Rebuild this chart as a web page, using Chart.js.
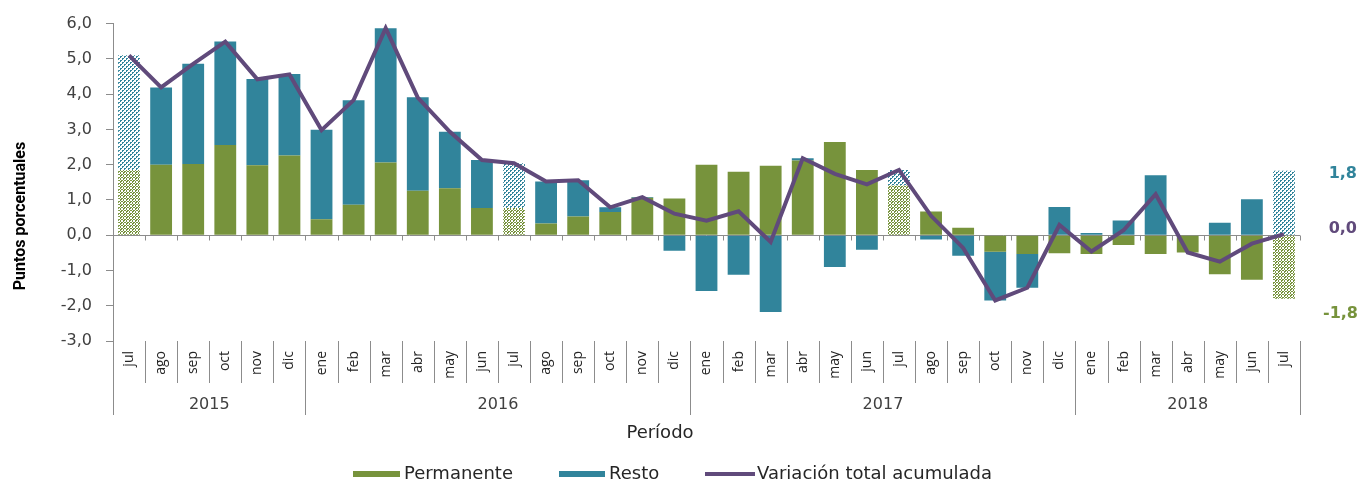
<!DOCTYPE html>
<html>
<head>
<meta charset="utf-8">
<script src="https://cdn.jsdelivr.net/npm/chart.js@4.4.1/dist/chart.umd.min.js"></script>
<style>
  html, body { margin: 0; padding: 0; background: #fff; }
  #wrap { width: 1361px; height: 482px; }
</style>
</head>
<body>
<div id="wrap"><canvas id="chart" width="1361" height="482"></canvas></div>
<script>
// Period: jul 2015 - jul 2018
const months = [
  'jul', 'ago', 'sep', 'oct', 'nov', 'dic',
  'ene', 'feb', 'mar', 'abr', 'may', 'jun', 'jul', 'ago', 'sep', 'oct', 'nov', 'dic',
  'ene', 'feb', 'mar', 'abr', 'may', 'jun', 'jul', 'ago', 'sep', 'oct', 'nov', 'dic',
  'ene', 'feb', 'mar', 'abr', 'may', 'jun', 'jul'
];
const years = ['2015', '2016', '2017', '2018'];
const yearSpans = [6, 12, 12, 7];

const permanente = [
  1.85, 2.00, 2.02, 2.56, 1.98, 2.26,
  0.45, 0.86, 2.06, 1.26, 1.33, 0.77, 0.77, 0.33, 0.53, 0.66, 1.06, 1.04,
  2.00, 1.80, 1.97, 2.12, 2.64, 1.85, 1.41, 0.67, 0.21, -0.47, -0.53, -0.51,
  -0.53, -0.28, -0.53, -0.49, -1.11, -1.26, -1.80
];
const resto = [
  3.25, 2.19, 2.84, 2.93, 2.45, 2.31,
  2.54, 2.97, 3.81, 2.65, 1.60, 1.36, 1.27, 1.19, 1.03, 0.13, 0.02, -0.44,
  -1.58, -1.12, -2.18, 0.06, -0.90, -0.41, 0.44, -0.12, -0.58, -1.38, -0.96, 0.80,
  0.06, 0.42, 1.70, 0.00, 0.35, 1.02, 1.83
];
const variacion = [
  5.10, 4.19, 4.86, 5.49, 4.42, 4.56,
  2.98, 3.83, 5.87, 3.90, 2.93, 2.13, 2.04, 1.52, 1.56, 0.79, 1.08, 0.61,
  0.41, 0.68, -0.19, 2.18, 1.74, 1.44, 1.85, 0.55, -0.36, -1.85, -1.49, 0.29,
  -0.46, 0.14, 1.16, -0.49, -0.75, -0.24, 0.03
];
// july bars get the dotted fill
const patternIdx = [0, 12, 24, 36];

const green = '#77933C';
const teal = '#31849B';
const purple = '#604A7B';
const axisGrey = '#8C8C8C';
const textDark = '#404040';

function makePattern(color, size, pixels) {
  const c = document.createElement('canvas');
  c.width = size; c.height = size;
  const g = c.getContext('2d');
  g.fillStyle = '#fff';
  g.fillRect(0, 0, size, size);
  g.fillStyle = color;
  pixels.forEach(p => g.fillRect(p[0], p[1], 1, 1));
  return g.createPattern(c, 'repeat');
}
// small rings for Permanente, dotted blobs for Resto
const greenPattern = makePattern(green, 6, [
  [1, 0], [2, 0], [0, 1], [3, 1], [0, 2], [3, 2], [1, 3], [2, 3],
  [4, 3], [5, 3], [3, 4], [0, 4], [3, 5], [0, 5], [4, 0], [5, 0],
  [1, 1], [4, 4]
]);
const tealPattern = makePattern(teal, 4, [
  [0, 0], [1, 0], [0, 1], [2, 2], [3, 2], [2, 3]
]);

const fmt = v => v.toFixed(1).replace('.', ',');

function edge(x, i) {
  return x.left + i * (x.right - x.left) / months.length;
}

const decor = {
  id: 'decor',
  beforeDatasetsDraw(chart) {
    const { ctx, chartArea: a, scales: { x, y } } = chart;
    const y0 = Math.round(y.getPixelForValue(0)) + 0.5;
    ctx.save();
    ctx.strokeStyle = axisGrey;
    ctx.lineWidth = 1;
    ctx.beginPath();
    ctx.moveTo(a.left, y0);
    ctx.lineTo(a.right, y0);
    for (let i = 1; i <= months.length; i++) {
      const px = Math.round(edge(x, i)) + 0.5;
      ctx.moveTo(px, y0);
      ctx.lineTo(px, y0 + 5);
    }
    ctx.stroke();
    ctx.restore();
  },
  afterDraw(chart) {
    const { ctx, chartArea: a, scales: { x, y } } = chart;
    ctx.save();

    // month / year separators under the plot
    const yearEdges = [0];
    yearSpans.forEach(s => yearEdges.push(yearEdges[yearEdges.length - 1] + s));
    ctx.strokeStyle = axisGrey;
    ctx.lineWidth = 1;
    ctx.beginPath();
    for (let i = 0; i <= months.length; i++) {
      const px = Math.round(edge(x, i)) + 0.5;
      ctx.moveTo(px, a.bottom);
      ctx.lineTo(px, a.bottom + (yearEdges.includes(i) ? 74 : 42));
    }
    ctx.stroke();

    // year labels
    ctx.fillStyle = textDark;
    ctx.font = '16px "DejaVu Sans"';
    ctx.textAlign = 'center';
    ctx.textBaseline = 'middle';
    years.forEach((yr, k) => {
      const cx = (edge(x, yearEdges[k]) + edge(x, yearEdges[k + 1])) / 2;
      ctx.fillText(yr, cx, a.bottom + 64);
    });

    // x title
    ctx.font = '18px "DejaVu Sans"';
    ctx.fillStyle = '#262626';
    ctx.fillText('Período', 660, 433);

    // y title
    ctx.save();
    ctx.translate(21, 216);
    ctx.rotate(-Math.PI / 2);
    ctx.font = 'bold 16px "Liberation Sans Narrow", "Roboto", sans-serif';
    ctx.fillStyle = '#000';
    ctx.fillText('Puntos porcentuales', 0, 0);
    ctx.restore();

    // last-value labels on the right
    const last = months.length - 1;
    ctx.font = 'bold 16px "DejaVu Sans"';
    ctx.textAlign = 'right';
    ctx.fillStyle = teal;
    ctx.fillText(fmt(resto[last]), 1357, y.getPixelForValue(1.8) + 2);
    ctx.fillStyle = purple;
    ctx.fillText(fmt(variacion[last]), 1357, y.getPixelForValue(0) - 6);
    ctx.fillStyle = green;
    ctx.fillText(fmt(permanente[last]), 1358, y.getPixelForValue(-1.8) + 15);

    // legend
    const ly = 474;
    ctx.textAlign = 'left';
    ctx.fillStyle = green; ctx.fillRect(353, ly - 3, 47, 6);
    ctx.fillStyle = teal; ctx.fillRect(559, ly - 3, 46, 6);
    ctx.strokeStyle = purple; ctx.lineWidth = 4;
    ctx.beginPath(); ctx.moveTo(705, ly); ctx.lineTo(755, ly); ctx.stroke();
    ctx.font = '18px "DejaVu Sans"';
    ctx.fillStyle = '#262626';
    ctx.fillText('Permanente', 404, ly);
    ctx.fillText('Resto', 609, ly);
    ctx.fillText('Variación total acumulada', 757, ly);

    ctx.restore();
  }
};

new Chart(document.getElementById('chart'), {
  type: 'bar',
  data: {
    labels: months,
    datasets: [
      {
        type: 'line',
        label: 'Variación total acumulada',
        data: variacion,
        stack: 'total',
        borderColor: purple,
        borderWidth: 4,
        pointRadius: 0,
        tension: 0,
        fill: false,
        order: 0
      },
      {
        label: 'Permanente',
        data: permanente,
        stack: 'bars',
        backgroundColor: c => patternIdx.includes(c.dataIndex) ? greenPattern : green,
        barPercentage: 0.68,
        categoryPercentage: 1.0,
        order: 1
      },
      {
        label: 'Resto',
        data: resto,
        stack: 'bars',
        backgroundColor: c => patternIdx.includes(c.dataIndex) ? tealPattern : teal,
        barPercentage: 0.68,
        categoryPercentage: 1.0,
        order: 1
      }
    ]
  },
  options: {
    responsive: false,
    animation: false,
    layout: { padding: { top: 20, right: 61, bottom: 0, left: 0 } },
    plugins: {
      legend: { display: false },
      tooltip: { enabled: false }
    },
    scales: {
      x: {
        stacked: true,
        offset: true,
        grid: { display: false, drawTicks: false },
        border: { display: false },
        ticks: {
          autoSkip: false,
          minRotation: 90,
          maxRotation: 90,
          padding: 10,
          color: '#262626',
          font: { family: 'Open Sans', size: 14 }
        },
        afterFit: s => { s.height = 141; }
      },
      y: {
        stacked: true,
        min: -3,
        max: 6,
        ticks: {
          stepSize: 1,
          padding: 14,
          color: textDark,
          font: { family: 'DejaVu Sans', size: 16 },
          callback: v => fmt(v)
        },
        grid: { drawOnChartArea: false, drawTicks: true, tickLength: 7, color: axisGrey },
        border: { color: axisGrey },
        afterFit: s => { s.width = 113; }
      }
    }
  },
  plugins: [decor]
});
</script>
</body>
</html>
